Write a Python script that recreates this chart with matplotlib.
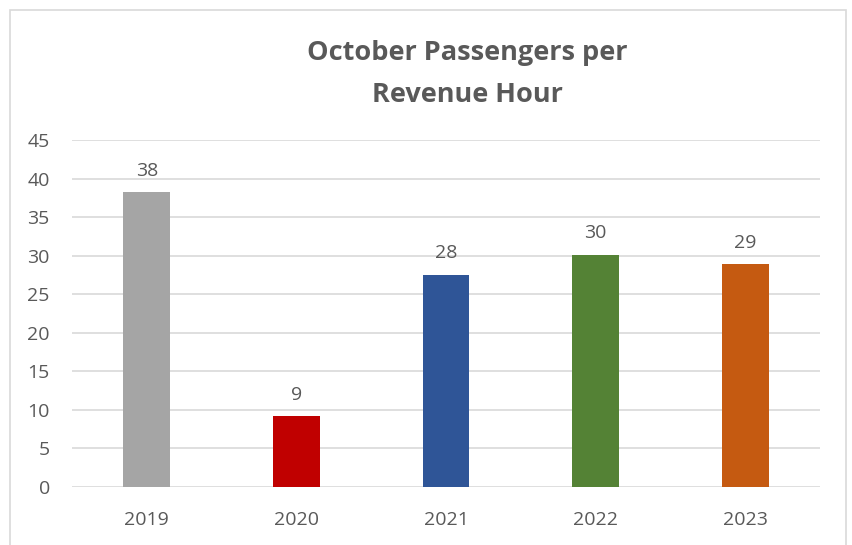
import numpy as np
import matplotlib.pyplot as plt
from matplotlib.patches import Rectangle

years = ['2019', '2020', '2021', '2022', '2023']
values = [38.2, 9.2, 27.5, 30.1, 28.9]
labels = ['38', '9', '28', '30', '29']
colors = ['#A5A5A5', '#C00000', '#2F5597', '#548235', '#C55A11']

plt.rcParams['font.family'] = ['Open Sans', 'DejaVu Sans']
text_color = '#595959'

fig = plt.figure(figsize=(8.53, 5.45), dpi=100)
ax = fig.add_axes([72 / 853, 58 / 545, 748 / 853, 347 / 545])

x = np.arange(len(years))
ax.bar(x, values, width=0.314, color=colors, zorder=3)
for xi, v, lab in zip(x, values, labels):
    ax.annotate(lab, (xi, v), xytext=(0, 9), textcoords='offset points',
                ha='center', va='bottom', fontsize=14, color=text_color)

ax.set_xlim(-0.5, 4.5)
ax.set_ylim(0, 45)
ax.set_yticks(range(0, 50, 5))
ax.set_xticks(x)
ax.set_xticklabels(years)
ax.tick_params(length=0, labelsize=14, labelcolor=text_color)
ax.tick_params(axis='y', pad=16)
ax.tick_params(axis='x', pad=17)
ax.grid(axis='y', color='#D9D9D9', linewidth=1.2, zorder=0)
for s in ax.spines.values():
    s.set_visible(False)

fig.text(467 / 853, 1 - 74 / 545, 'October Passengers per\nRevenue Hour',
         ha='center', va='center', fontsize=19.5, fontweight='bold',
         color=text_color, linespacing=1.75)

# chart border
fig.patches.append(Rectangle((10 / 853, -0.1), 836 / 853, 1.1 - 10 / 545,
                             transform=fig.transFigure, fill=False,
                             edgecolor='#D9D9D9', linewidth=1.2))

fig.savefig('out.png', dpi=100)
